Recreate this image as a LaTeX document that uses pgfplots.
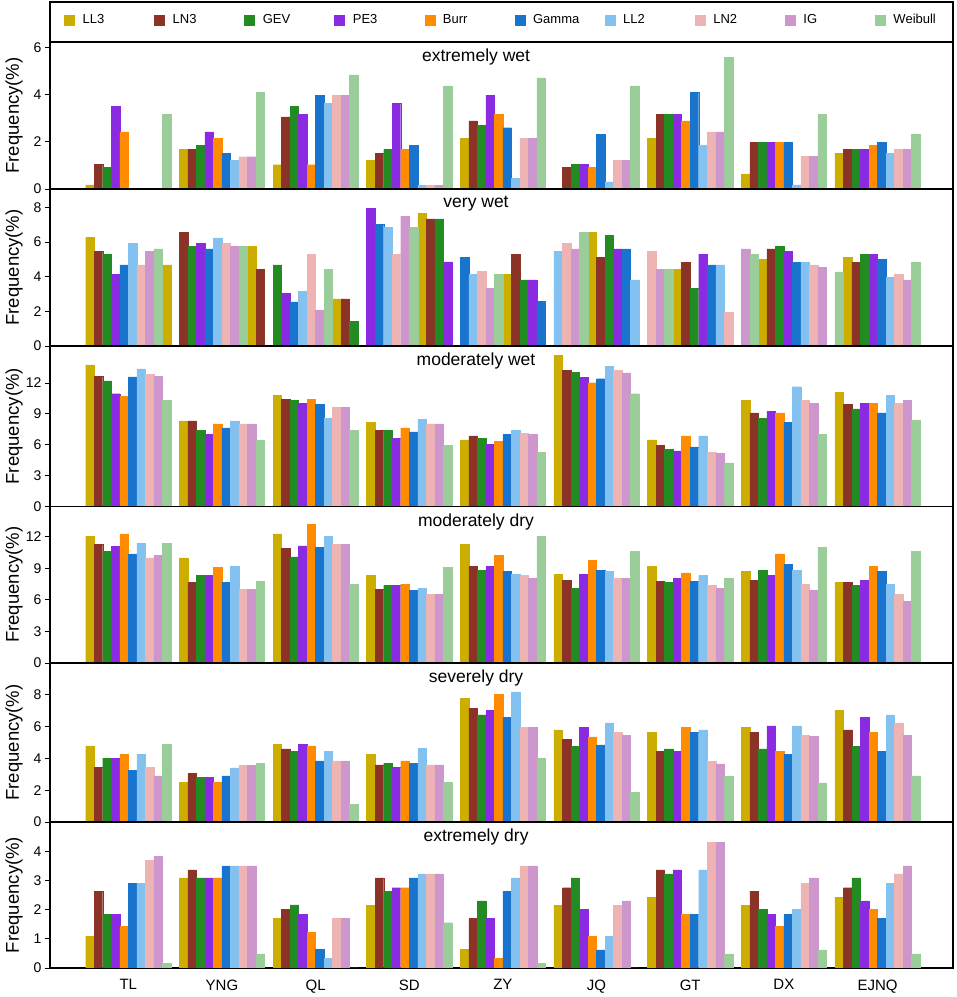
\documentclass[border=0pt]{standalone}
\usepackage{fontspec}
\setmainfont{Liberation Sans}
\usepackage{pgfplots}
\usepackage{pgfplotstable}
\pgfplotsset{compat=1.18}

\definecolor{cLL3}{HTML}{CDAD00}
\definecolor{cLN3}{HTML}{8B3326}
\definecolor{cGEV}{HTML}{228B22}
\definecolor{cPE3}{HTML}{8A2BE2}
\definecolor{cBurr}{HTML}{FF8C00}
\definecolor{cGamma}{HTML}{1874CD}
\definecolor{cLL2}{HTML}{82C1F0}
\definecolor{cLN2}{HTML}{EEB4B4}
\definecolor{cIG}{HTML}{CD96CD}
\definecolor{cWei}{HTML}{9BCD9B}

% extremely wet
\pgfplotstableread{
st   LL3   LN3   GEV   PE3   Burr  Gamma LL2   LN2   IG    Weibull
TL   0.17  1.05  0.92  3.51  2.42  0     0     0     0     3.17
YNG  1.67  1.67  1.85  2.42  2.14  1.50  1.22  1.37  1.37  4.09
QL   1.03  3.06  3.51  3.17  1.03  3.97  3.64  3.97  3.97  4.84
SD   1.22  1.50  1.67  3.64  1.67  1.85  0.16  0.16  0.16  4.38
ZY   2.14  2.89  2.70  3.97  3.17  2.60  0.45  2.14  2.14  4.72
JQ   0     0.92  1.05  1.05  0.92  2.32  0.30  1.22  1.22  4.38
GT   2.14  3.17  3.17  3.17  2.89  4.10  1.85  2.42  2.42  5.59
DX   0.64  1.97  1.97  1.97  1.97  1.97  0.17  1.39  1.39  3.17
EJNQ 1.51  1.67  1.67  1.67  1.85  1.97  1.51  1.67  1.67  2.32
}\Pone
% moderately wet
\pgfplotstableread{
st   LL3   LN3   GEV   PE3   Burr  Gamma LL2   LN2   IG    Weibull
TL   13.76 12.68 12.20 10.96 10.73 12.59 13.37 12.81 12.68 10.31
YNG  8.33  8.33  7.38  7.02  8.03  7.64  8.33  8.03  8.03  6.47
QL   10.83 10.44 10.31 10.05 10.44 9.92  8.59  9.66  9.66  7.38
SD   8.20  7.38  7.38  6.60  7.64  7.25  8.46  8.03  8.03  5.95
ZY   6.47  6.86  6.60  6.05  6.34  6.99  7.38  7.12  6.99  5.27
JQ   14.67 13.20 13.07 12.55 12.03 12.42 13.63 13.20 12.98 10.96
GT   6.47  5.95  5.53  5.40  6.86  5.79  6.86  5.27  5.14  4.23
DX   10.31 9.11  8.59  9.24  9.11  8.20  11.64 10.31 10.05 6.99
EJNQ 11.12 9.92  9.50  10.05 10.05 9.11  10.83 10.05 10.31 8.42
}\Pthree
% moderately dry
\pgfplotstableread{
st   LL3   LN3   GEV   PE3   Burr  Gamma LL2   LN2   IG    Weibull
TL   12.00 11.24 10.58 11.08 12.25 10.35 11.37 9.97  10.23 11.37
YNG  9.97  7.63  8.30  8.30  9.06  7.63  9.21  7.00  7.00  7.76
QL   12.25 10.89 10.07 11.11 13.17 10.99 12.03 11.24 11.24 7.50
SD   8.30  7.00  7.38  7.38  7.50  6.87  7.10  6.49  6.49  9.06
ZY   11.24 9.21  8.80  9.21  10.23 8.68  8.42  8.30  8.04  12.03
JQ   8.42  7.88  7.12  8.42  9.72  8.80  8.68  8.04  8.04  10.61
GT   9.21  7.76  7.63  8.04  8.55  7.76  8.30  7.38  7.12  8.04
DX   8.68  7.88  8.80  8.30  10.35 9.34  8.80  7.50  6.87  10.99
EJNQ 7.63  7.63  7.38  7.88  9.21  8.68  7.50  6.49  5.86  10.61
}\Pfour
% severely dry
\pgfplotstableread{
st   LL3   LN3   GEV   PE3   Burr  Gamma LL2   LN2   IG    Weibull
TL   4.79  3.42  4.01  4.01  4.26  3.24  4.26  3.42  2.90  4.87
YNG  2.48  3.05  2.82  2.82  2.48  2.90  3.40  3.57  3.57  3.68
QL   4.87  4.60  4.43  4.87  4.79  3.84  4.43  3.84  3.84  1.09
SD   4.26  3.59  3.68  3.42  3.84  3.68  4.62  3.59  3.59  2.48
ZY   7.77  7.16  6.74  7.02  8.03  6.58  8.19  5.97  5.97  4.01
JQ   5.80  5.19  4.77  5.97  5.36  4.85  6.24  5.63  5.46  1.85
GT   5.63  4.43  4.60  4.43  5.97  5.63  5.80  3.82  3.66  2.90
DX   5.97  5.63  4.60  6.05  4.43  4.24  6.05  5.46  5.38  2.46
EJNQ 7.00  5.80  4.77  6.58  5.63  4.43  6.74  6.24  5.44  2.90
}\Pfive
% extremely dry
\pgfplotstableread{
st   LL3   LN3   GEV   PE3   Burr  Gamma LL2   LN2   IG    Weibull
TL   1.09  2.62  1.83  1.83  1.42  2.90  2.90  3.69  3.83  0.15
YNG  3.09  3.36  3.09  3.09  3.09  3.50  3.50  3.50  3.50  0.48
QL   1.69  2.02  2.16  1.83  1.22  0.63  0.33  1.69  1.69  0
SD   2.15  3.09  2.62  2.75  2.75  3.09  3.22  3.22  3.22  1.55
ZY   0.63  1.69  2.30  1.69  0.33  2.62  3.09  3.50  3.50  0.15
JQ   2.15  2.75  3.09  2.02  1.09  0.62  1.09  2.15  2.30  0
GT   2.43  3.36  3.22  3.36  1.83  1.83  3.36  4.30  4.30  0.48
DX   2.15  2.62  2.02  1.83  1.42  1.83  2.02  2.90  3.09  0.62
EJNQ 2.43  2.75  3.09  2.30  2.02  1.69  2.90  3.22  3.50  0.48
}\Psix

\newcommand\tenbars[1]{%
 \addplot[fill=cLL3,draw=cLL3,bar shift=0pt] table[x expr=\coordindex-0.4091,y=LL3]{#1};
 \addplot[fill=cLN3,draw=cLN3,bar shift=0pt] table[x expr=\coordindex-0.3182,y=LN3]{#1};
 \addplot[fill=cGEV,draw=cGEV,bar shift=0pt] table[x expr=\coordindex-0.2273,y=GEV]{#1};
 \addplot[fill=cPE3,draw=cPE3,bar shift=0pt] table[x expr=\coordindex-0.1364,y=PE3]{#1};
 \addplot[fill=cBurr,draw=cBurr,bar shift=0pt] table[x expr=\coordindex-0.0455,y=Burr]{#1};
 \addplot[fill=cGamma,draw=cGamma,bar shift=0pt] table[x expr=\coordindex+0.0455,y=Gamma]{#1};
 \addplot[fill=cLL2,draw=cLL2,bar shift=0pt] table[x expr=\coordindex+0.1364,y=LL2]{#1};
 \addplot[fill=cLN2,draw=cLN2,bar shift=0pt] table[x expr=\coordindex+0.2273,y=LN2]{#1};
 \addplot[fill=cIG,draw=cIG,bar shift=0pt] table[x expr=\coordindex+0.3182,y=IG]{#1};
 \addplot[fill=cWei,draw=cWei,bar shift=0pt] table[x expr=\coordindex+0.4091,y=Weibull]{#1};
}

\pgfplotsset{
 panel/.style={
  scale only axis, width=903pt,
  xmin=-0.836, xmax=8.806, ymin=0,
  ybar=0pt, bar width=0.0909,
  axis line style={line width=1.2pt},
  xtick=\empty, major x tick style={draw=none},
  ytick pos=left, tick align=outside, major tick length=5pt,
  tick style={black, line width=0.8pt},
  yticklabel style={font=\fontsize{14}{16}\selectfont},
  /pgf/number format/assume math mode=true,
  ylabel={Frequency(\%)},
  every axis y label/.style={at={(axis description cs:0,0.5)}, xshift=-36pt, anchor=center, rotate=90, font=\fontsize{18.5}{20}\selectfont},
  every axis title/.style={at={(axis description cs:0.4718,1)}, yshift=-15pt, anchor=center, font=\fontsize{17.5}{20}\selectfont},
 },
}

\begin{document}
\begin{tikzpicture}
\useasboundingbox (0pt,0pt) rectangle (957pt,997pt);

% extremely wet
\begin{axis}[panel, name=p1, at={(50pt,808pt)}, anchor=south west, height=147pt,
  ymax=6.24, ytick={0,2,4,6}, title={extremely wet},
  legend columns=10,
  legend image code/.code={\draw[#1,line width=0.4pt] (0pt,-5pt) rectangle (10pt,5pt);},
  legend style={draw=none, fill=none, inner sep=0pt, at={(axis description cs:0,1)}, anchor=west,
    xshift=14pt, yshift=22pt, font=\fontsize{13}{15}\selectfont,
    /tikz/every odd column/.append style={column sep=6pt},
    /tikz/every even column/.append style={column sep=25.7pt, nodes={text width=44pt, inner xsep=2pt}}},
  legend cell align=left]
\tenbars{\Pone}
\legend{LL3,LN3,GEV,PE3,Burr,Gamma,LL2,LN2,IG,Weibull}
\end{axis}
\draw[line width=1.2pt] (p1.north west) rectangle ([yshift=40pt]p1.north east);

% very wet (bar colours as in the original figure)
\begin{axis}[panel, at={(50pt,651pt)}, anchor=south west, height=157pt,
  ymax=9.05, ytick={0,2,4,6,8}, title={very wet}]
\addplot[fill=cLL3,draw=cLL3,bar shift=0pt] coordinates {(-0.4091,6.25) (7.6818,5.13) (6.7727,4.98) (5.8636,4.42) (4.9545,6.54) (4.0455,4.12) (3.1364,7.65) (2.2273,2.71) (1.3182,5.73) (0.4091,4.67)};
\addplot[fill=cLN3,draw=cLN3,bar shift=0pt] coordinates {(0.5909,6.54) (-0.3182,5.44) (7.7727,4.83) (6.8636,5.60) (5.9545,4.83) (5.0455,5.13) (4.1364,5.29) (3.2273,7.33) (2.3182,2.71) (1.4091,4.42)};
\addplot[fill=cGEV,draw=cGEV,bar shift=0pt] coordinates {(1.5909,4.67) (0.6818,5.73) (-0.2273,5.29) (7.8636,5.29) (6.9545,5.75) (6.0455,3.31) (5.1364,6.38) (4.2273,3.81) (3.3182,7.33) (2.4091,1.44)};
\addplot[fill=cPE3,draw=cPE3,bar shift=0pt] coordinates {(2.5909,7.94) (1.6818,3.02) (0.7727,5.92) (-0.1364,4.12) (7.9545,5.29) (7.0455,5.44) (6.1364,5.29) (5.2273,5.60) (4.3182,3.81) (3.4091,4.85)};
\addplot[fill=cGamma,draw=cGamma,bar shift=0pt] coordinates {(3.5909,5.13) (2.6818,7.02) (1.7727,2.54) (0.8636,5.60) (-0.0455,4.67) (8.0455,4.98) (7.1364,4.83) (6.2273,4.67) (5.3182,5.60) (4.4091,2.56)};
\addplot[fill=cLL2,draw=cLL2,bar shift=0pt] coordinates {(4.5909,5.44) (3.6818,4.12) (2.7727,6.85) (1.8636,3.17) (0.9545,6.23) (0.0455,5.92) (8.1364,3.96) (7.2273,4.83) (6.3182,4.67) (5.4091,3.81)};
\addplot[fill=cLN2,draw=cLN2,bar shift=0pt] coordinates {(5.5909,5.44) (4.6818,5.92) (3.7727,4.29) (2.8636,5.29) (1.9545,5.29) (1.0455,5.92) (0.1364,4.67) (8.2273,4.12) (7.3182,4.67) (6.4091,1.92)};
\addplot[fill=cIG,draw=cIG,bar shift=0pt] coordinates {(6.5909,5.60) (5.6818,4.42) (4.7727,5.60) (3.8636,3.33) (2.9545,7.48) (2.0455,2.08) (1.1364,5.73) (0.2273,5.44) (8.3182,3.81) (7.4091,4.52)};
\addplot[fill=cWei,draw=cWei,bar shift=0pt] coordinates {(7.5909,4.27) (6.6818,5.29) (5.7727,4.42) (4.8636,6.54) (3.9545,4.12) (3.0455,6.85) (2.1364,4.42) (1.2273,5.73) (0.3182,5.60) (8.4091,4.83)};
\end{axis}

% moderately wet
\begin{axis}[panel, at={(50pt,490.5pt)}, anchor=south west, height=160.5pt,
  ymax=15.6, ytick={0,3,6,9,12}, title={moderately wet}]
\tenbars{\Pthree}
\end{axis}

% moderately dry
\begin{axis}[panel, at={(50pt,334pt)}, anchor=south west, height=156.5pt,
  ymax=14.86, ytick={0,3,6,9,12}, title={moderately dry}]
\tenbars{\Pfour}
\end{axis}

% severely dry
\begin{axis}[panel, at={(50pt,175pt)}, anchor=south west, height=159pt,
  ymax=10.0, ytick={0,2,4,6,8}, title={severely dry}]
\tenbars{\Pfive}
\end{axis}

% extremely dry
\begin{axis}[panel, at={(50pt,29pt)}, anchor=south west, height=146pt,
  ymax=5.0, ytick={0,1,2,3,4}, title={extremely dry},
  xtick={0,1,2,3,4,5,6,7,8}, xticklabels={TL,YNG,QL,SD,ZY,JQ,GT,DX,EJNQ},
  xtick pos=bottom,
  xticklabel style={font=\fontsize{15}{17}\selectfont, yshift=-3pt}]
\tenbars{\Psix}
\end{axis}
\end{tikzpicture}
\end{document}
